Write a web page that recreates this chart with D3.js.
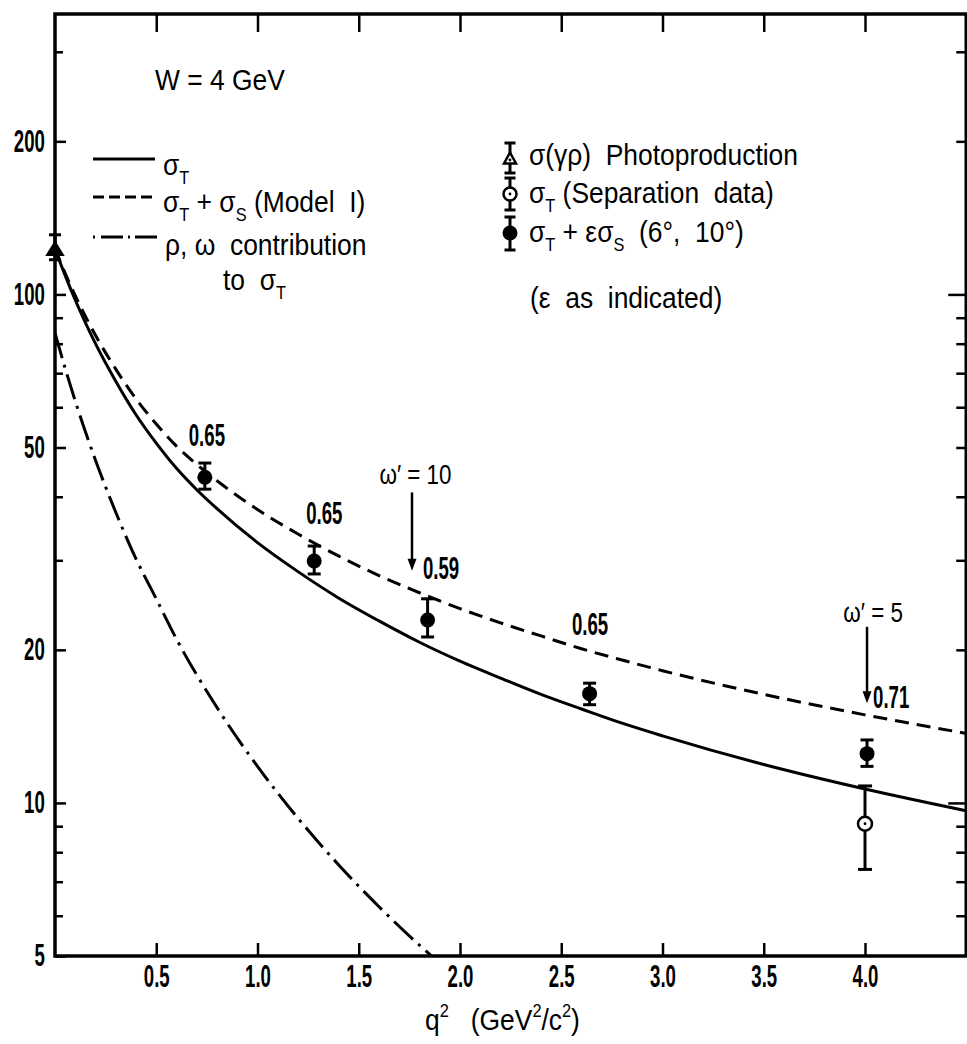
<!DOCTYPE html>
<html>
<head>
<meta charset="utf-8">
<script src="https://cdn.jsdelivr.net/npm/d3@7"></script>
<style>
  html, body { margin: 0; padding: 0; background: #fff; }
  svg { display: block; }
  text { font-family: "Liberation Sans", Arial, sans-serif; fill: #000; white-space: pre; }
</style>
</head>
<body>
<svg id="chart" width="967" height="1044"></svg>
<script>
// ---- Model curves, W = 4 GeV (q² in GeV²/c², cross sections in μb) ----
const curveQ2 = [0, 0.05, 0.1, 0.15, 0.2, 0.3, 0.4, 0.5, 0.6, 0.7, 0.8, 1.0, 1.2, 1.4, 1.6, 1.8, 2.0, 2.2, 2.4, 2.6, 2.8, 3.0, 3.5, 4.0, 4.5];
const sigmaT = [123, 109, 97.5, 88, 80, 67.5, 58, 51, 45.5, 41.3, 37.9, 32.5, 28.5, 25.3, 22.8, 20.7, 19.0, 17.6, 16.35, 15.3, 14.35, 13.55, 11.9, 10.65, 9.65];
const sigmaTS = [123, 110.1, 99.4, 90.6, 83.1, 71.3, 62.3, 55.6, 50.3, 46.3, 43.0, 37.75, 33.8, 30.6, 28.0, 25.9, 24.1, 22.6, 21.3, 20.1, 19.1, 18.2, 16.35, 14.9, 13.7];

const rhoOmegaQ2 = [0, 0.05, 0.1, 0.2, 0.3, 0.4, 0.5, 0.6, 0.8, 1.0, 1.2, 1.4, 1.6, 1.8, 1.9];
const rhoOmega = [84, 71.6, 61.7, 47.2, 37.3, 30.2, 25.2, 21, 15.4, 11.8, 9.33, 7.56, 6.25, 5.25, 4.84];

// ---- Measurements ----
const photoQ2 = [0];
const photoVal = [123];
const photoLo = [117];
const photoHi = [131];

const sepQ2 = [4.0];
const sepVal = [9.1];
const sepLo = [7.4];
const sepHi = [10.8];

const mixQ2 = [0.74, 1.28, 1.84, 2.64, 4.01];
const mixVal = [43.7, 29.9, 22.9, 16.4, 12.5];
const mixLo = [41.4, 28.2, 21.2, 15.6, 11.8];
const mixHi = [46.6, 32.0, 25.2, 17.2, 13.3];
const epsilonLabels = ["0.65", "0.65", "0.59", "0.65", "0.71"];

// ---- Axis ticks ----
const xTickVals = [0.5, 1.0, 1.5, 2.0, 2.5, 3.0, 3.5, 4.0];
const xTickLabels = ["0.5", "1.0", "1.5", "2.0", "2.5", "3.0", "3.5", "4.0"];
const yTickVals = [5, 10, 20, 50, 100, 200];
const yTickLabels = ["5", "10", "20", "50", "100", "200"];
const yMinorVals = [6, 7, 8, 9, 30, 40, 60, 70, 80, 90, 300];

(function draw() {
  // ---- Scales ----
  const pLeft = 55, pRight = 966.25, pTop = 14, pBottom = 956;
  const x = d3.scaleLinear().domain([0, 4.5]).range([pLeft, pRight]);
  const y = d3.scaleLog().domain([5, 356]).range([pBottom, pTop]);

  const svg = d3.select("#chart");
  svg.append("defs").append("clipPath").attr("id", "plot")
    .append("rect").attr("x", pLeft).attr("y", pTop)
    .attr("width", pRight - pLeft).attr("height", pBottom - pTop);

  // text helper: condensed lettering with sub/superscripts
  function label(parent, px, py, parts, opts = {}) {
    const size = opts.size || 30, sx = opts.sx || 0.88, anchor = opts.anchor || "start";
    const t = parent.append("g")
      .attr("transform", `translate(${px},${py}) scale(${sx},1)`)
      .append("text").attr("font-size", size).attr("text-anchor", anchor);
    if (opts.bold) t.attr("font-weight", "bold");
    let cur = 0;
    parts.forEach(p => {
      const s = typeof p === "string" ? { t: p, shift: 0 }
        : { t: p.t, shift: p.sub ? size * 0.3 : -size * 0.42, small: true };
      const ts = t.append("tspan").text(s.t);
      if (s.shift !== cur) ts.attr("dy", s.shift - cur);
      if (s.small) ts.attr("font-size", size * 0.62);
      cur = s.shift;
    });
    return t;
  }

  // ---- Axes ----
  function styleAxis(g) {
    g.select(".domain").remove();
    g.selectAll(".tick line").attr("stroke", "#000").attr("stroke-width", 2.5);
  }
  const digitSize = 31, digitSx = 0.6;

  const gx = svg.append("g").attr("transform", `translate(0,${pBottom})`)
    .call(d3.axisBottom(x).tickValues(xTickVals).tickSize(-13).tickPadding(9)
      .tickFormat((d, i) => xTickLabels[i]));
  styleAxis(gx);
  gx.selectAll(".tick text").attr("font-size", digitSize).attr("font-family", null)
    .attr("font-weight", "bold").attr("transform", `scale(${digitSx},1)`);

  svg.append("g").attr("transform", `translate(0,${pTop})`)
    .call(d3.axisTop(x).tickValues(xTickVals).tickSize(-18).tickFormat(""))
    .call(styleAxis);

  const gy = svg.append("g").attr("transform", `translate(${pLeft},0)`)
    .call(d3.axisLeft(y).tickValues(yTickVals).tickSize(-11).tickPadding(17)
      .tickFormat((d, i) => yTickLabels[i]));
  styleAxis(gy);
  gy.selectAll(".tick text").attr("font-size", digitSize).attr("font-family", null)
    .attr("font-weight", "bold").attr("transform", `scale(${digitSx},1)`);

  svg.append("g").attr("transform", `translate(${pLeft},0)`)
    .call(d3.axisLeft(y).tickValues(yMinorVals).tickSize(-8).tickFormat(""))
    .call(styleAxis);

  svg.append("g").attr("transform", `translate(${pRight},0)`)
    .call(d3.axisRight(y).tickValues([10, 100]).tickSize(-18).tickFormat(""))
    .call(styleAxis);
  svg.append("g").attr("transform", `translate(${pRight},0)`)
    .call(d3.axisRight(y).tickValues([6, 7, 8, 9, 20, 30, 40, 50, 60, 70, 80, 90, 200, 300]).tickSize(-10).tickFormat(""))
    .call(styleAxis);

  // frame
  svg.append("rect").attr("x", pLeft).attr("y", pTop)
    .attr("width", pRight - pLeft).attr("height", pBottom - pTop)
    .attr("fill", "none").attr("stroke", "#000").attr("stroke-width", 3.5);

  // ---- Curves ----
  const plot = svg.append("g").attr("clip-path", "url(#plot)");
  const line = d3.line().x(d => x(d[0])).y(d => y(d[1])).curve(d3.curveMonotoneX);

  plot.append("path").datum(d3.zip(curveQ2, sigmaT)).attr("d", line)
    .attr("fill", "none").attr("stroke", "#000").attr("stroke-width", 3);
  plot.append("path").datum(d3.zip(curveQ2, sigmaTS)).attr("d", line)
    .attr("fill", "none").attr("stroke", "#000").attr("stroke-width", 3)
    .attr("stroke-dasharray", "14,8");
  plot.append("path").datum(d3.zip(rhoOmegaQ2, rhoOmega)).attr("d", line)
    .attr("fill", "none").attr("stroke", "#000").attr("stroke-width", 3)
    .attr("stroke-dasharray", "26,7,3,7");

  // ---- Markers ----
  function errorBar(g, cx, yLo, yHi, cap) {
    g.append("line").attr("x1", cx).attr("x2", cx).attr("y1", yLo).attr("y2", yHi)
      .attr("stroke", "#000").attr("stroke-width", 3);
    [yLo, yHi].forEach(yy => g.append("line")
      .attr("x1", cx - cap / 2).attr("x2", cx + cap / 2).attr("y1", yy).attr("y2", yy)
      .attr("stroke", "#000").attr("stroke-width", 3));
  }
  function triangle(g, cx, cy, w, h, filled) {
    g.append("path")
      .attr("d", `M${cx},${cy - h / 2}L${cx + w / 2},${cy + h / 2}L${cx - w / 2},${cy + h / 2}Z`)
      .attr("fill", filled ? "#000" : "#fff").attr("stroke", "#000").attr("stroke-width", 2.5);
  }
  function openCircle(g, cx, cy, r) {
    g.append("circle").attr("cx", cx).attr("cy", cy).attr("r", r)
      .attr("fill", "#fff").attr("stroke", "#000").attr("stroke-width", 2.5);
    g.append("circle").attr("cx", cx).attr("cy", cy).attr("r", 1.4).attr("fill", "#000");
  }

  const marks = svg.append("g");
  photoQ2.forEach((q, i) => {
    errorBar(marks, x(q), y(photoLo[i]), y(photoHi[i]), 12);
    triangle(marks, x(q), y(photoVal[i]), 15, 12, true);
  });
  sepQ2.forEach((q, i) => {
    errorBar(marks, x(q), y(sepLo[i]), y(sepHi[i]), 14);
    openCircle(marks, x(q), y(sepVal[i]), 7);
  });
  mixQ2.forEach((q, i) => {
    errorBar(marks, x(q), y(mixLo[i]), y(mixHi[i]), 13);
    marks.append("circle").attr("cx", x(q)).attr("cy", y(mixVal[i])).attr("r", 7.5).attr("fill", "#000");
  });

  // ---- Annotations ----
  const ann = svg.append("g");
  const epsOpts = { size: 31, sx: 0.6, bold: true };
  // ε values beside each point
  label(ann, x(0.75), y(50.3), [epsilonLabels[0]], { ...epsOpts, anchor: "middle" });
  label(ann, x(1.33), y(35.4), [epsilonLabels[1]], { ...epsOpts, anchor: "middle" });
  label(ann, x(1.817), y(27.6), [epsilonLabels[2]], epsOpts);
  label(ann, x(2.642), y(21.4), [epsilonLabels[3]], { ...epsOpts, anchor: "middle" });
  label(ann, x(4.04), y(15.4), [epsilonLabels[4]], epsOpts);

  function arrow(g, q, vFrom, vTo) {
    const ax = x(q), y1 = y(vFrom), y2 = y(vTo);
    g.append("line").attr("x1", ax).attr("x2", ax).attr("y1", y1).attr("y2", y2 - 8)
      .attr("stroke", "#000").attr("stroke-width", 2.5);
    g.append("path").attr("d", `M${ax},${y2}L${ax - 4.5},${y2 - 12}L${ax + 4.5},${y2 - 12}Z`).attr("fill", "#000");
  }
  label(ann, x(1.78), y(42.3), ["ω′ = 10"], { size: 28, sx: 0.8, anchor: "middle" });
  arrow(ann, 1.763, 40.8, 28.6);
  label(ann, x(4.04), y(22.7), ["ω′ = 5"], { size: 28, sx: 0.8, anchor: "middle" });
  arrow(ann, 4.01, 22.2, 15.7);

  label(ann, 155, 90, ["W = 4 GeV"]);

  // ---- Left legend (curves) ----
  const leg = svg.append("g");
  leg.append("line").attr("x1", 93).attr("x2", 155).attr("y1", 159).attr("y2", 159)
    .attr("stroke", "#000").attr("stroke-width", 3);
  leg.append("line").attr("x1", 93).attr("x2", 155).attr("y1", 197).attr("y2", 197)
    .attr("stroke", "#000").attr("stroke-width", 3).attr("stroke-dasharray", "11,5");
  leg.append("line").attr("x1", 93).attr("x2", 157).attr("y1", 237).attr("y2", 237)
    .attr("stroke", "#000").attr("stroke-width", 3).attr("stroke-dasharray", "2,6,22,5,2,5,22,6,2");
  label(leg, 163, 175, ["σ", { t: "T", sub: 1 }]);
  label(leg, 163, 212, ["σ", { t: "T", sub: 1 }, " + σ", { t: "S", sub: 1 }, " (Model  I)"]);
  label(leg, 165, 255, ["ρ, ω  contribution"]);
  label(leg, 223, 290, ["to  σ", { t: "T", sub: 1 }]);

  // ---- Right legend (measurements) ----
  const lx = 510;
  errorBar(leg, lx, 143, 173, 11);
  triangle(leg, lx, 158, 12, 11, false);
  leg.append("circle").attr("cx", lx).attr("cy", 160).attr("r", 1.4).attr("fill", "#000");
  errorBar(leg, lx, 178, 210, 11);
  openCircle(leg, lx, 194, 6.5);
  errorBar(leg, lx, 217, 250, 11);
  leg.append("circle").attr("cx", lx).attr("cy", 233).attr("r", 7.5).attr("fill", "#000");

  label(leg, 529, 165, ["σ(γρ)  Photoproduction"]);
  label(leg, 529, 203, ["σ", { t: "T", sub: 1 }, " (Separation  data)"]);
  label(leg, 529, 242, ["σ", { t: "T", sub: 1 }, " + εσ", { t: "S", sub: 1 }, "  (6°,  10°)"]);
  label(leg, 530, 308, ["(ε  as  indicated)"]);

  // ---- X axis title ----
  label(svg, 425, 1030, ["q", { t: "2" }, "   (GeV", { t: "2" }, "/c", { t: "2" }, ")"]);
})();
</script>
</body>
</html>
